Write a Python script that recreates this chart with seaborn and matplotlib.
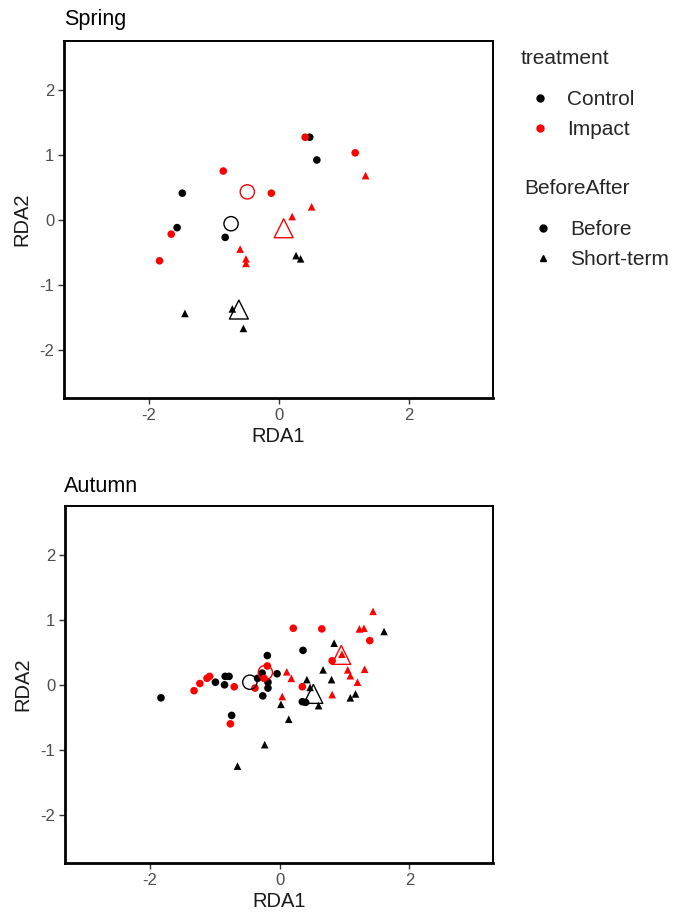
import numpy as np
import pandas as pd
import matplotlib
matplotlib.use("Agg")
import matplotlib.pyplot as plt
import seaborn as sns
from matplotlib.lines import Line2D

# ---------------- data ----------------
treatments = ["Control", "Impact"]
periods = ["Before", "Short-term"]
treat_colors = ["black", "red"]
period_markers = ["o", "^"]

# Spring
spring_cb_x = [-1.49, -1.57, -0.83, 0.47, 0.58]
spring_cb_y = [0.41, -0.12, -0.27, 1.27, 0.92]
spring_ib_x = [-0.86, -0.12, 0.40, 1.17, -1.66, -1.84]
spring_ib_y = [0.75, 0.41, 1.27, 1.03, -0.22, -0.63]
spring_is_x = [1.33, 0.50, 0.20, -0.60, -0.51, -0.51]
spring_is_y = [0.68, 0.20, 0.05, -0.45, -0.60, -0.67]
spring_cs_x = [-1.45, -0.72, -0.55, 0.26, 0.33]
spring_cs_y = [-1.44, -1.37, -1.67, -0.55, -0.60]
# centroids: Control-Before, Impact-Before, Control-Short, Impact-Short
spring_cent_x = [-0.74, -0.49, -0.62, 0.07]
spring_cent_y = [-0.06, 0.43, -1.38, -0.13]

# Autumn
autumn_cb_x = [-1.83, -0.99, -0.84, -0.78, -0.85, -0.74, -0.34, -0.19, -0.04, -0.27,
               -0.18, -0.18, -0.26, 0.36, 0.35, 0.40]
autumn_cb_y = [-0.20, 0.04, 0.13, 0.13, 0.00, -0.47, 0.10, 0.45, 0.17, 0.18,
               0.04, -0.05, -0.17, 0.53, -0.26, -0.27]
autumn_ib_x = [-1.32, -1.23, -1.12, -1.08, -0.70, -0.76, -0.38, -0.19, -0.24, 0.21,
               0.65, 1.39, 0.81, 0.35]
autumn_ib_y = [-0.09, 0.02, 0.10, 0.13, -0.03, -0.60, -0.05, 0.29, 0.10, 0.87,
               0.86, 0.68, 0.37, -0.03]
autumn_is_x = [1.23, 1.30, 0.96, 0.11, 0.18, 1.05, 1.09, 1.31, 1.20, 0.04, 0.81, 1.44]
autumn_is_y = [0.86, 0.87, 0.47, 0.20, 0.10, 0.23, 0.14, 0.24, 0.04, -0.18, -0.15, 1.13]
autumn_cs_x = [-0.65, 0.84, 0.67, 0.80, 0.42, 0.47, 0.02, 1.09, 1.17, 0.60, 0.14, -0.23, 1.61]
autumn_cs_y = [-1.25, 0.64, 0.23, 0.08, 0.08, -0.04, -0.30, -0.20, -0.14, -0.32, -0.53, -0.92, 0.82]
autumn_cent_x = [-0.46, -0.22, 0.52, 0.95]
autumn_cent_y = [0.04, 0.19, -0.14, 0.46]

cent_treat = ["Control", "Impact", "Control", "Impact"]
cent_period = ["Before", "Before", "Short-term", "Short-term"]

x_ticks = [-2, 0, 2]
y_ticks = [-2, -1, 0, 1, 2]


def build(cb_x, cb_y, ib_x, ib_y, is_x, is_y, cs_x, cs_y):
    rows = []
    for xs, ys, t, p in [(cb_x, cb_y, "Control", "Before"), (ib_x, ib_y, "Impact", "Before"),
                         (is_x, is_y, "Impact", "Short-term"), (cs_x, cs_y, "Control", "Short-term")]:
        for x, y in zip(xs, ys):
            rows.append(dict(RDA1=x, RDA2=y, treatment=t, BeforeAfter=p))
    return pd.DataFrame(rows)


spring = build(spring_cb_x, spring_cb_y, spring_ib_x, spring_ib_y,
               spring_is_x, spring_is_y, spring_cs_x, spring_cs_y)
autumn = build(autumn_cb_x, autumn_cb_y, autumn_ib_x, autumn_ib_y,
               autumn_is_x, autumn_is_y, autumn_cs_x, autumn_cs_y)
spring_c = pd.DataFrame(dict(RDA1=spring_cent_x, RDA2=spring_cent_y,
                             treatment=cent_treat, BeforeAfter=cent_period))
autumn_c = pd.DataFrame(dict(RDA1=autumn_cent_x, RDA2=autumn_cent_y,
                             treatment=cent_treat, BeforeAfter=cent_period))

# ---------------- style ----------------
sns.set_theme(style="white")
plt.rcParams["font.family"] = ["Liberation Sans", "DejaVu Sans"]
plt.rcParams["axes.unicode_minus"] = False

palette = dict(zip(treatments, treat_colors))
markers = dict(zip(periods, period_markers))

W, H = 683, 918
fig = plt.figure(figsize=(W / 100, H / 100), dpi=100)


def add_ax(left, top, right, bottom):
    return fig.add_axes([left / W, 1 - bottom / H, (right - left) / W, (bottom - top) / H])


ax1 = add_ax(64, 41, 493, 398)
ax2 = add_ax(65, 506, 493, 863)

for ax, df, cdf, title, ty in [(ax1, spring, spring_c, "Spring", 20), (ax2, autumn, autumn_c, "Autumn", 486)]:
    sns.scatterplot(data=df, x="RDA1", y="RDA2", hue="treatment", style="BeforeAfter",
                    palette=palette, markers=markers, s=30, linewidth=0,
                    hue_order=treatments, style_order=periods, legend=False, ax=ax)
    for t, p, x, y in zip(cdf.treatment, cdf.BeforeAfter, cdf.RDA1, cdf.RDA2):
        ax.scatter([x], [y], marker=markers[p], s=105 if p == "Before" else 185,
                   facecolors="none", edgecolors=palette[t], linewidths=1.0, zorder=5)
    ax.set_xlim(-3.31, 3.29)
    ax.set_ylim(-2.74, 2.75)
    ax.set_xticks(x_ticks)
    ax.set_yticks(y_ticks)
    ax.tick_params(axis="both", which="both", length=4, width=1, color="#333333",
                   labelsize=12, labelcolor="#4D4D4D", pad=3, bottom=True, left=True)
    ax.set_xlabel("RDA1", fontsize=14.5, labelpad=3, color="#1a1a1a")
    ax.set_ylabel("RDA2", fontsize=14.5, labelpad=6, color="#1a1a1a")
    for side, sp in ax.spines.items():
        sp.set_color("black")
        sp.set_linewidth(2.0 if side in ("left", "bottom") else 1.4)
        sp.set_visible(True)
    ax.grid(False)
    fig.text(64 / W, 1 - ty / H, title, fontsize=15.5, ha="left", va="center", color="black")

# ---------------- legends ----------------
h_treat = [Line2D([], [], marker="o", linestyle="none", color=c, markersize=5) for c in treat_colors]
h_per = [Line2D([], [], marker=m, linestyle="none", color="black", markersize=5) for m in period_markers]

leg_kw = dict(loc="upper left", frameon=False, fontsize=15, title_fontsize=15,
              handlelength=1.8, handletextpad=0.4, labelspacing=0.52,
              alignment="left", borderaxespad=0, borderpad=0)
leg1 = fig.legend(h_treat, treatments, title="treatment",
                  bbox_to_anchor=(521 / W, 1 - 49 / H), **leg_kw)
leg2 = fig.legend(h_per, periods, title="BeforeAfter",
                  bbox_to_anchor=(524 / W, 1 - 179 / H), **leg_kw)
for lg in (leg1, leg2):
    lg._legend_box.sep = 16

fig.savefig("out.png", dpi=100, facecolor="white")
